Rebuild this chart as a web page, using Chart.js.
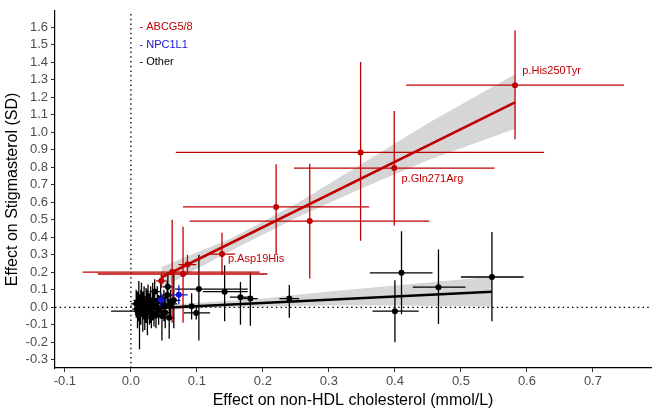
<!DOCTYPE html>
<html>
<head>
<meta charset="utf-8">
<script src="https://cdn.jsdelivr.net/npm/chart.js@4.4.1/dist/chart.umd.min.js"></script>
<style>
  html, body { margin: 0; padding: 0; background: #fff; }
  #wrap { width: 655px; height: 413px; position: relative; }
</style>
</head>
<body>
<div id="wrap"><canvas id="stigmaChart"></canvas></div>
<script>
const xTicks = [-0.1, 0, 0.1, 0.2, 0.3, 0.4, 0.5, 0.6, 0.7];
const yTicks = [-0.3, -0.2, -0.1, 0, 0.1, 0.2, 0.3, 0.4, 0.5, 0.6, 0.7, 0.8, 0.9, 1.0, 1.1, 1.2, 1.3, 1.4, 1.5, 1.6];
const xRange = [-0.115, 0.788];
const yRange = [-0.3466, 1.6927];

// ABCG5/8 variants (x = non-HDL effect, y = stigmasterol effect, with CIs)
const abcgX   = [0.582, 0.348, 0.399, 0.220, 0.271, 0.138, 0.0857, 0.079, 0.0625, 0.046];
const abcgY   = [1.268, 0.884, 0.795, 0.573, 0.492, 0.304, 0.244, 0.190, 0.201, 0.151];
const abcgXLo = [0.417, 0.068, 0.247, 0.079, 0.089, 0.118, 0.072, -0.050, -0.073, 0.038];
const abcgXHi = [0.747, 0.626, 0.551, 0.361, 0.452, 0.158, 0.099, 0.207, 0.195, 0.054];
const abcgYLo = [0.960, 0.380, 0.465, 0.300, 0.164, 0.186, 0.190, -0.088, -0.088, 0.110];
const abcgYHi = [1.580, 1.400, 1.120, 0.816, 0.820, 0.425, 0.300, 0.460, 0.500, 0.190];

// NPC1L1 variants
const npcX   = [0.0454, 0.0726];
const npcY   = [0.043, 0.071];
const npcXLo = [0.036, 0.061];
const npcXHi = [0.054, 0.086];
const npcYLo = [0.006, 0.017];
const npcYHi = [0.080, 0.126];

// Other loci
const otherX   = [0.410, 0.466, 0.547, 0.400, 0.240, 0.103, 0.142, 0.166, 0.181, 0.092, 0.099, 0.056, 0.036,
                  0.008, 0.010, 0.012, 0.013, 0.015, 0.016, 0.018, 0.020, 0.021, 0.023, 0.025, 0.026, 0.028,
                  0.030, 0.031, 0.033, 0.035, 0.038, 0.040, 0.042, 0.045, 0.047, 0.050, 0.052, 0.055, 0.058,
                  0.060, 0.010, 0.065];
const otherY   = [0.197, 0.115, 0.173, -0.022, 0.050, 0.104, 0.089, 0.058, 0.050, 0.006, -0.032, 0.117, 0.090,
                  0.020, -0.010, 0.040, -0.040, 0.000, 0.060, -0.020, 0.030, -0.050, 0.010, -0.030, 0.050, -0.010,
                  0.020, -0.060, 0.040, 0.000, -0.040, 0.030, -0.020, 0.050, -0.050, 0.010, -0.030, 0.070, -0.060,
                  0.020, -0.022, 0.040];
const otherXLo = [0.362, 0.427, 0.500, 0.366, 0.225, 0.067, 0.109, 0.150, 0.170, 0.080, 0.080, 0.048, 0.028,
                  0.000, 0.002, 0.004, 0.006, 0.005, 0.008, 0.010, 0.012, 0.012, 0.015, 0.015, 0.018, 0.020,
                  0.020, 0.022, 0.025, 0.026, 0.030, 0.032, 0.034, 0.036, 0.038, 0.040, 0.044, 0.046, 0.050,
                  0.050, -0.030, 0.055];
const otherXHi = [0.457, 0.507, 0.595, 0.436, 0.255, 0.177, 0.177, 0.182, 0.192, 0.104, 0.120, 0.064, 0.044,
                  0.016, 0.018, 0.020, 0.020, 0.025, 0.024, 0.026, 0.028, 0.030, 0.031, 0.035, 0.034, 0.036,
                  0.040, 0.040, 0.041, 0.044, 0.046, 0.048, 0.050, 0.054, 0.056, 0.060, 0.060, 0.064, 0.066,
                  0.070, 0.050, 0.075];
const otherYLo = [-0.040, -0.095, -0.080, -0.200, -0.060, -0.190, -0.080, -0.100, -0.105, -0.070, -0.070, 0.030, 0.010,
                  -0.060, -0.120, -0.080, -0.240, -0.100, -0.030, -0.140, -0.070, -0.130, -0.090, -0.160, -0.040, -0.100,
                  -0.090, -0.120, -0.050, -0.110, -0.120, -0.060, -0.100, -0.030, -0.190, -0.080, -0.120, -0.010, -0.180,
                  -0.060, -0.070, -0.120];
const otherYHi = [0.434, 0.330, 0.430, 0.155, 0.127, 0.300, 0.240, 0.145, 0.200, 0.080, 0.010, 0.200, 0.160,
                  0.100, 0.090, 0.150, 0.050, 0.100, 0.140, 0.090, 0.120, 0.030, 0.110, 0.100, 0.130, 0.080,
                  0.120, 0.000, 0.140, 0.100, 0.050, 0.120, 0.070, 0.140, 0.040, 0.100, 0.060, 0.150, 0.050,
                  0.100, 0.030, 0.200];

// fitted lines with confidence bands
const abcgFitX = [0.046, 0.582];
const abcgFitY = [0.170, 1.170];
const abcgBandX  = [0.046, 0.150, 0.250, 0.350, 0.450, 0.582];
const abcgBandLo = [0.110, 0.320, 0.510, 0.680, 0.840, 1.020];
const abcgBandHi = [0.230, 0.390, 0.590, 0.820, 1.050, 1.330];

const otherFitX = [0.005, 0.547];
const otherFitY = [-0.011, 0.089];
const otherBandX  = [0.005, 0.100, 0.200, 0.300, 0.400, 0.547];
const otherBandLo = [-0.022, -0.005, 0.005, 0.010, 0.010, 0.005];
const otherBandHi = [0.000, 0.025, 0.050, 0.090, 0.125, 0.175];

const zeroX = [0, 0];

const variantLabels = ['p.His250Tyr', 'p.Gln271Arg', 'p.Asp19His'];
const variantLabelX = [0.593, 0.410, 0.147];
const variantLabelY = [1.350, 0.730, 0.275];

const groupNames = ['- ABCG5/8', '- NPC1L1', '- Other'];
const groupLabelX = [0.013, 0.013, 0.013];
const groupLabelY = [1.600, 1.500, 1.400];

const RED = '#c00000';
const BLUE = '#1414d2';
const BLACK = '#000000';
const BAND = 'rgba(153,153,153,0.4)';
const FONT = '"Liberation Sans", Arial, sans-serif';

const toPoints = (xs, ys) => xs.map((x, i) => ({ x, y: ys[i] }));

const verticalBars = (xs, lo, hi) => {
  const pts = [];
  xs.forEach((x, i) => { pts.push({ x, y: lo[i] }, { x, y: hi[i] }, { x: NaN, y: NaN }); });
  return pts;
};
const horizontalBars = (ys, lo, hi) => {
  const pts = [];
  ys.forEach((y, i) => { pts.push({ x: lo[i], y }, { x: hi[i], y }, { x: NaN, y: NaN }); });
  return pts;
};

const lineSet = (data, color, width, order, extra = {}) => Object.assign({
  data, showLine: true, borderColor: color, borderWidth: width, pointRadius: 0,
  pointHoverRadius: 0, fill: false, tension: 0, order, spanGaps: false
}, extra);

const dotSet = (data, color, order) => ({
  data, showLine: false, backgroundColor: color, borderColor: color,
  pointRadius: 3, pointBorderWidth: 0, order
});

const textLabels = {
  id: 'textLabels',
  afterDatasetsDraw(chart) {
    const { ctx, scales: { x, y } } = chart;
    ctx.save();
    ctx.textBaseline = 'middle';
    ctx.textAlign = 'left';
    ctx.font = '11px ' + FONT;
    const groupColors = [RED, BLUE, BLACK];
    groupNames.forEach((t, i) => {
      ctx.fillStyle = groupColors[i];
      ctx.fillText(t, x.getPixelForValue(groupLabelX[i]), y.getPixelForValue(groupLabelY[i]));
    });
    ctx.fillStyle = RED;
    variantLabels.forEach((t, i) => {
      ctx.fillText(t, x.getPixelForValue(variantLabelX[i]), y.getPixelForValue(variantLabelY[i]));
    });
    ctx.restore();
  }
};

new Chart(document.getElementById('stigmaChart').getContext('2d'), {
  type: 'scatter',
  data: {
    datasets: [
      lineSet([{ x: xRange[0], y: 0 }, { x: xRange[1], y: 0 }], BLACK, 1.3, 20, { borderDash: [1.5, 3.2] }),
      lineSet(toPoints(zeroX, yRange), BLACK, 1.3, 20, { borderDash: [1.5, 3.2] }),
      lineSet(toPoints(abcgBandX, abcgBandHi), 'rgba(0,0,0,0)', 0, 15, { fill: '+1', backgroundColor: BAND }),
      lineSet(toPoints(abcgBandX, abcgBandLo), 'rgba(0,0,0,0)', 0, 16),
      lineSet(toPoints(otherBandX, otherBandHi), 'rgba(0,0,0,0)', 0, 15, { fill: '+1', backgroundColor: BAND }),
      lineSet(toPoints(otherBandX, otherBandLo), 'rgba(0,0,0,0)', 0, 16),
      lineSet(verticalBars(otherX, otherYLo, otherYHi), BLACK, 1.3, 8),
      lineSet(horizontalBars(otherY, otherXLo, otherXHi), BLACK, 1.3, 8),
      lineSet(verticalBars(abcgX, abcgYLo, abcgYHi), RED, 1.3, 7),
      lineSet(horizontalBars(abcgY, abcgXLo, abcgXHi), RED, 1.3, 7),
      lineSet(verticalBars(npcX, npcYLo, npcYHi), BLUE, 1.3, 6),
      lineSet(horizontalBars(npcY, npcXLo, npcXHi), BLUE, 1.3, 6),
      lineSet(toPoints(otherFitX, otherFitY), BLACK, 2.6, 4),
      lineSet(toPoints(abcgFitX, abcgFitY), RED, 2.6, 4),
      dotSet(toPoints(otherX, otherY), BLACK, 3),
      dotSet(toPoints(abcgX, abcgY), RED, 2),
      dotSet(toPoints(npcX, npcY), BLUE, 1)
    ]
  },
  options: {
    responsive: true,
    maintainAspectRatio: false,
    animation: false,
    events: [],
    layout: { padding: { top: 3, right: 3, left: 0, bottom: 0 } },
    plugins: { legend: { display: false }, tooltip: { enabled: false } },
    scales: {
      x: {
        type: 'linear',
        min: xRange[0],
        max: xRange[1],
        afterBuildTicks: s => { s.ticks = xTicks.map(v => ({ value: v })); },
        afterFit: s => { s.height = 45; },
        ticks: { callback: v => v.toFixed(1), color: '#4d4d4d', font: { family: FONT, size: 13 }, padding: 2, maxRotation: 0, autoSkip: false },
        grid: { drawOnChartArea: false, drawTicks: true, tickLength: 4, color: '#333' },
        border: { color: '#000', width: 1.2 },
        title: { display: true, text: 'Effect on non-HDL cholesterol (mmol/L)', color: '#000', font: { family: FONT, size: 16 }, padding: { top: 0, bottom: 3 } }
      },
      y: {
        type: 'linear',
        min: yRange[0],
        max: yRange[1],
        afterBuildTicks: s => { s.ticks = yTicks.map(v => ({ value: v })); },
        afterFit: s => { s.width = 55; },
        ticks: { callback: v => v.toFixed(1), color: '#4d4d4d', font: { family: FONT, size: 13 }, padding: 3, autoSkip: false },
        grid: { drawOnChartArea: false, drawTicks: true, tickLength: 4, color: '#333' },
        border: { color: '#000', width: 1.2 },
        title: { display: true, text: 'Effect on Stigmasterol (SD)', color: '#000', font: { family: FONT, size: 16 }, padding: { top: 3, bottom: 0 } }
      }
    }
  },
  plugins: [textLabels]
});
</script>
</body>
</html>
